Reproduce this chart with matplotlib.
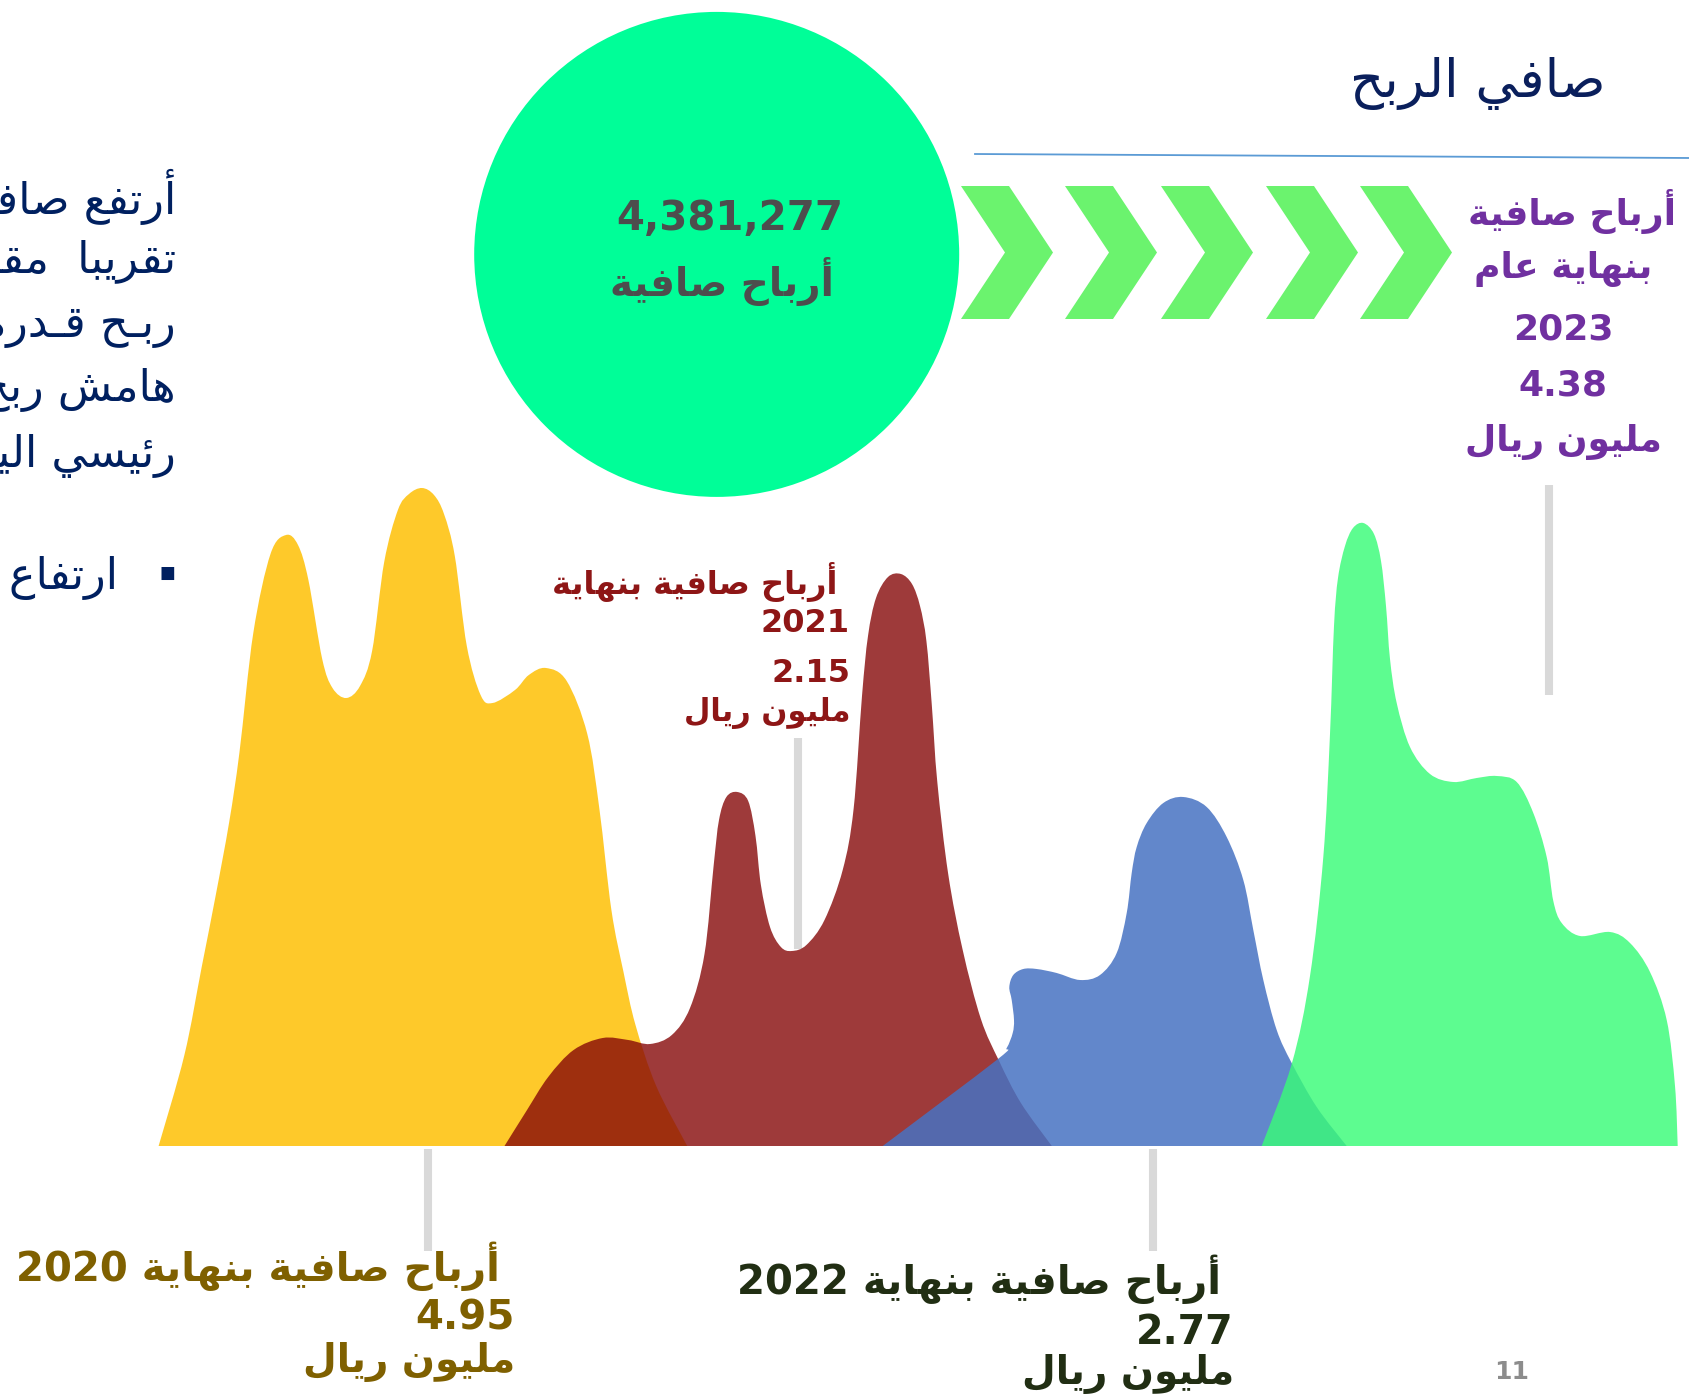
import re
import matplotlib
matplotlib.use("Agg")
import matplotlib.pyplot as plt
from matplotlib.patches import Circle, Polygon, PathPatch
from matplotlib.path import Path

# ---------------- data ----------------
# outline of each ridge: x position (px) and height above the baseline (px)
x_2020 = [158.6, 184.4, 201.7, 215.4, 229.2, 239.5, 253.3, 270.5, 286.0, 298.0, 308.4, 322.2,
          332.5, 346.3, 360.0, 372.1, 384.2, 397.9, 409.0, 422.0, 434.0, 444.0, 454.8, 466.8,
          480.6, 492.6, 515.0, 528.8, 546.0, 566.7, 587.3, 599.4, 611.4, 623.5, 635.5, 656.2, 687.2]
h_2020 = [0, 91, 179, 249, 324, 394, 513, 592, 611, 601, 566, 487,
          458, 448, 460, 495, 584, 636, 652, 658, 651, 632, 590, 500,
          451, 443, 456, 471, 478, 465, 412, 337, 236, 174, 121, 60, 0]

x_2021 = [504.5, 526.4, 548.2, 573.6, 602.7, 628.2, 650.0, 671.8, 690.0, 704.5, 713.6, 719.0,
          726.4, 737.3, 748.2, 755.5, 760.9, 770.0, 780.9, 791.8, 806.4, 824.5, 842.7, 853.6,
          862.0, 868.0, 876.0, 888.0, 900.9, 912.0, 920.0, 926.4, 931.8, 937.3, 948.2, 962.7,
          980.9, 999.1, 1020.9, 1051.8]
h_2021 = [0, 35, 69, 96, 108, 106, 102, 111, 138, 192, 280, 326,
          349, 354, 345, 310, 261, 219, 199, 195, 201, 226, 276, 337,
          450, 510, 548, 569, 572, 562, 540, 505, 441, 364, 272, 196,
          127, 85, 43, 0]

x_2022 = [882.7, 996.7, 1006.7, 1012.7, 1014.0, 1011.7, 1009.3, 1013.3, 1023.3, 1036.7, 1056.7,
          1080.0, 1100.0, 1116.7, 1126.7, 1131.7, 1136.7, 1146.7, 1163.3, 1183.3, 1206.7, 1226.7,
          1243.3, 1253.3, 1263.3, 1276.7, 1291.7, 1316.7, 1346.7]
h_2022 = [0, 86, 98, 113, 126, 146, 159, 171, 177, 177, 173,
          166, 171, 193, 233, 273, 299, 323, 343, 349, 339, 309,
          266, 216, 166, 116, 83, 39, 0]

x_2023 = [1261.7, 1291.7, 1310.0, 1323.3, 1330.0, 1334.0, 1338.0, 1345.0, 1353.0, 1363.3, 1374.0,
          1381.0, 1386.0, 1390.0, 1396.7, 1410.0, 1430.0, 1453.3, 1476.7, 1496.7, 1516.7, 1533.3,
          1546.7, 1553.3, 1561.7, 1580.0, 1610.0, 1630.0, 1650.0, 1666.7, 1675.0, 1677.7]
h_2023 = [0, 82, 170, 289, 412, 520, 568, 600, 618, 623, 612,
          585, 540, 487, 443, 399, 372, 364, 368, 370, 364, 333,
          289, 245, 223, 210, 214, 203, 174, 126, 60, 0]

years = ["2020", "2021", "2022", "2023"]
profits = ["4.95", "2.15", "2.77", "4.38"]
total_profit = "4,381,277"

title = "صافي الربح"
label_head = "أرباح صافية بنهاية"
unit = "مليون ريال"
circle_caption = "أرباح صافية"
side_lines = ["أرتفع صافي الربح", "تقريبا  مقارنة", "ربـح قـدره", "هامش ربح", "رئيسي اليمن"]
bullet_text = "ارتفاع الأرباح"
page_no = "11"

# ---------------- tiny arabic shaper (matplotlib has no shaping / bidi) ----------------
DUAL = {'ئ': 0xFE89, 'ب': 0xFE8F, 'ت': 0xFE95, 'ث': 0xFE99, 'ج': 0xFE9D, 'ح': 0xFEA1,
        'خ': 0xFEA5, 'س': 0xFEB1, 'ش': 0xFEB5, 'ص': 0xFEB9, 'ض': 0xFEBD, 'ط': 0xFEC1,
        'ظ': 0xFEC5, 'ع': 0xFEC9, 'غ': 0xFECD, 'ف': 0xFED1, 'ق': 0xFED5, 'ك': 0xFED9,
        'ل': 0xFEDD, 'م': 0xFEE1, 'ن': 0xFEE5, 'ه': 0xFEE9, 'ي': 0xFEF1}
RIGHT = {'آ': 0xFE81, 'أ': 0xFE83, 'ؤ': 0xFE85, 'إ': 0xFE87, 'ا': 0xFE8D, 'ة': 0xFE93,
         'د': 0xFEA9, 'ذ': 0xFEAB, 'ر': 0xFEAD, 'ز': 0xFEAF, 'و': 0xFEED, 'ى': 0xFEEF}
LAM_ALEF = {'آ': 0xFEF5, 'أ': 0xFEF7, 'إ': 0xFEF9, 'ا': 0xFEFB}
TATWEEL = 'ـ'


def joins_next(c):
    return c in DUAL or c == TATWEEL


def joins_prev(c):
    return c in DUAL or c in RIGHT or c == TATWEEL


def ar(s):
    out = []
    i = 0
    n = len(s)
    while i < n:
        c = s[i]
        linked_prev = i > 0 and joins_next(s[i - 1]) and joins_prev(c)
        if c == 'ل' and i + 1 < n and s[i + 1] in LAM_ALEF:
            out.append(chr(LAM_ALEF[s[i + 1]] + (1 if linked_prev else 0)))
            i += 2
            continue
        linked_next = joins_next(c) and i + 1 < n and joins_prev(s[i + 1])
        if c in DUAL:
            k = (3 if linked_next else 1) if linked_prev else (2 if linked_next else 0)
            out.append(chr(DUAL[c] + k))
        elif c in RIGHT:
            out.append(chr(RIGHT[c] + (1 if linked_prev else 0)))
        else:
            out.append(c)
        i += 1
    vis = "".join(out)[::-1]
    return re.sub(r"[0-9A-Za-z.,]+", lambda m: m.group(0)[::-1], vis)


def ridge(ax, xs, hs, base, **kw):
    # smooth outline through the read points (catmull-rom drawn as bezier segments)
    pts = [(x, base - h) for x, h in zip(xs, hs)]
    n = len(pts)
    verts, codes = [pts[0]], [Path.MOVETO]
    for i in range(n - 1):
        p0 = pts[i - 1] if i > 0 else pts[i]
        p1, p2 = pts[i], pts[i + 1]
        p3 = pts[i + 2] if i + 2 < n else pts[i + 1]
        c1 = (p1[0] + (p2[0] - p0[0]) / 6, p1[1] + (p2[1] - p0[1]) / 6)
        c2 = (p2[0] - (p3[0] - p1[0]) / 6, p2[1] - (p3[1] - p1[1]) / 6)
        verts += [c1, c2, p2]
        codes += [Path.CURVE4] * 3
    verts.append(pts[0])
    codes.append(Path.CLOSEPOLY)
    ax.add_patch(PathPatch(Path(verts, codes), **kw))


# ---------------- figure ----------------
plt.rcParams['font.family'] = ['DejaVu Sans']
fig = plt.figure(figsize=(16.9, 14), dpi=100)
ax = fig.add_axes([0, 0, 1, 1])
ax.set_xlim(0, 1690)
ax.set_ylim(1400, 0)
ax.axis("off")

BASE = 1146
GRAY = "#D9D9D9"

# ridges
ridge_colors = [("#FEC92A", 1.0), ("#860808", 0.8), ("#4772C2", 0.85), ("#39FC78", 0.82)]
for xs, hs, (col, a) in zip([x_2020, x_2021, x_2022, x_2023],
                            [h_2020, h_2021, h_2022, h_2023], ridge_colors):
    ridge(ax, xs, hs, BASE, facecolor=col, alpha=a, lw=0, zorder=2)

# connector lines
lw_conn = 5.8
ax.plot([428, 428], [1149, 1251], color=GRAY, lw=lw_conn, zorder=1, solid_capstyle="butt")
ax.plot([797.6, 797.6], [738, 949], color=GRAY, lw=lw_conn, zorder=1, solid_capstyle="butt")
ax.plot([1153, 1153], [1149, 1251], color=GRAY, lw=lw_conn, zorder=1, solid_capstyle="butt")
ax.plot([1549, 1549], [485, 695], color=GRAY, lw=lw_conn, zorder=1, solid_capstyle="butt")

# title + rule
ax.text(1606, 84, ar(title), ha="right", va="center", fontsize=38, color="#0A1F5C")
ax.plot([975, 1690], [154, 158], color="#5B9BD5", lw=1.3)

# circle
ax.add_patch(Circle((716.7, 254.4), 242.5, color="#00FE98", lw=0, zorder=3))
ax.text(730, 219, total_profit, ha="center", va="center", fontsize=29,
        fontweight="bold", color="#4D4D4D", zorder=4)
ax.text(722, 282, ar(circle_caption), ha="center", va="center", fontsize=28,
        fontweight="bold", color="#4D4D4D", zorder=4)

# chevrons
chev_x = [961, 1065, 1161, 1266, 1360]
t, d, top, bot = 48, 44, 186, 319
mid = (top + bot) / 2
for x0 in chev_x:
    ax.add_patch(Polygon([(x0, top), (x0 + t, top), (x0 + t + d, mid),
                          (x0 + t, bot), (x0, bot), (x0 + d, mid)],
                         closed=True, color="#6BF36E", lw=0, zorder=3))

# 2023 label (purple, centred)
purple = "#7030A0"
for txt, xc, y in [(ar("أرباح صافية"), 1572, 212), (ar("بنهاية عام"), 1563, 269),
                   (years[3], 1563, 329), (profits[3], 1563, 386), (ar(unit), 1563, 442)]:
    ax.text(xc, y, txt, ha="center", va="center", fontsize=26, fontweight="bold", color=purple)

# 2021 label (dark red, right aligned)
dred = "#8E1616"
ax.text(838, 582, ar(label_head), ha="right", va="center", fontsize=23, fontweight="bold", color=dred)
ax.text(850, 623, years[1], ha="right", va="center", fontsize=23, fontweight="bold", color=dred)
ax.text(851, 674, profits[1], ha="right", va="center", fontsize=23, fontweight="bold", color=dred)
ax.text(851, 713, ar(unit), ha="right", va="center", fontsize=22, fontweight="bold", color=dred)

# 2020 label (olive)
olive = "#7F6000"
ax.text(500, 1266, ar(label_head + " " + years[0]), ha="right", va="center", fontsize=29,
        fontweight="bold", color=olive)
ax.text(515, 1319, profits[0], ha="right", va="center", fontsize=29, fontweight="bold", color=olive)
ax.text(515, 1362, ar(unit), ha="right", va="center", fontsize=28, fontweight="bold", color=olive)

# 2022 label (very dark green)
dgreen = "#212E13"
ax.text(1221, 1279, ar(label_head + " " + years[2]), ha="right", va="center", fontsize=29,
        fontweight="bold", color=dgreen)
ax.text(1234, 1333, profits[2], ha="right", va="center", fontsize=28.5, fontweight="bold", color=dgreen)
ax.text(1234, 1374, ar(unit), ha="right", va="center", fontsize=28, fontweight="bold", color=dgreen)

# side paragraph (cut by the left edge, as in the original slide)
navy = "#002060"
for txt, y in zip(side_lines, [197, 262, 327, 390, 456]):
    ax.text(176, y, ar(txt), ha="right", va="center", fontsize=32, color=navy)
ax.text(167, 573, "\u25A0", ha="center", va="center", fontsize=12, color=navy)
ax.text(118, 573, ar(bullet_text), ha="right", va="center", fontsize=32, color=navy)

# page number
ax.text(1512, 1372, page_no, ha="center", va="center", fontsize=18, fontweight="bold",
        color="#8C8C8C")

fig.savefig("out.png", dpi=100)
